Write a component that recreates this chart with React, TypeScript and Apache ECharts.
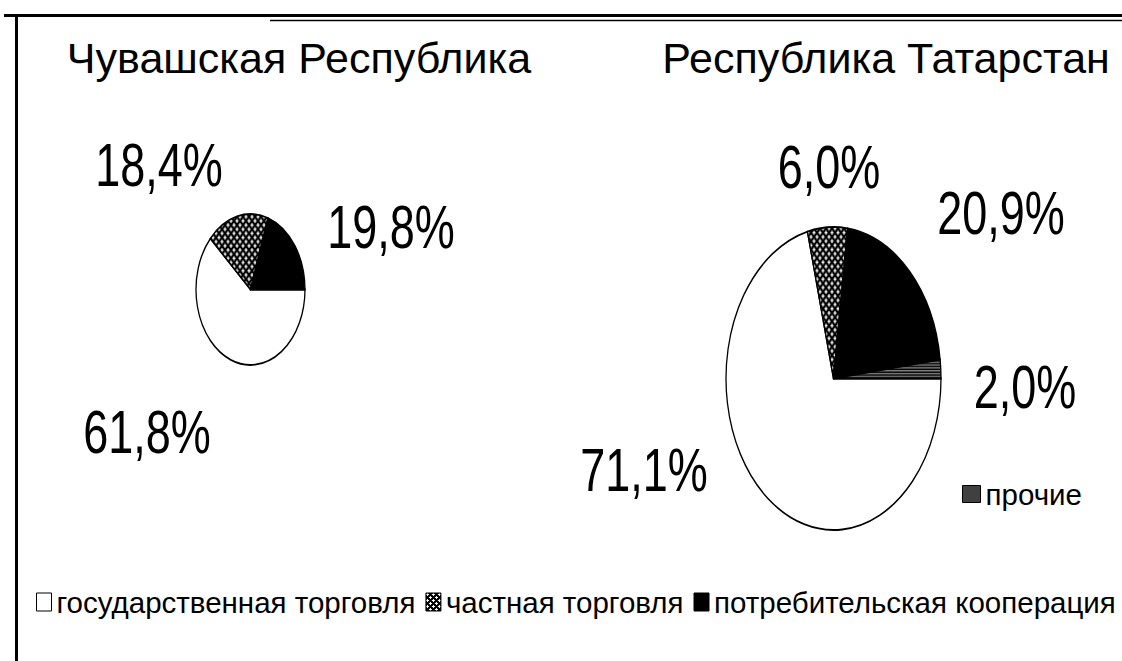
import React, { useEffect, useRef } from "react";
import * as echarts from "echarts";

// ---- data ----
const pieTitles = ["Чувашская Республика", "Республика Татарстан"];
const categories = [
  "государственная торговля",
  "частная торговля",
  "потребительская кооперация",
  "прочие",
];
const chuvashValues = [61.8, 18.4, 19.8];
const tatarstanValues = [71.1, 6.0, 20.9, 2.0];
const pieValues = [chuvashValues, tatarstanValues];

// ---- layout (screen px) ----
const pieGeom = [
  { cx: 250.5, cy: 289.5, rx: 54.5, ry: 75.5 },
  { cx: 833.5, cy: 378.5, rx: 107.5, ry: 151.5 },
];
const labelPos = [
  [
    [147, 432],
    [159, 165],
    [391, 227],
  ],
  [
    [644, 470],
    [829, 167],
    [1001, 213],
    [1025, 387],
  ],
];
const titleX = [299, 886];

function makePattern(w: number, h: number, bg: string, fg: string, pts: number[][]) {
  const c = document.createElement("canvas");
  c.width = w;
  c.height = h;
  const ctx = c.getContext("2d")!;
  ctx.fillStyle = bg;
  ctx.fillRect(0, 0, w, h);
  ctx.fillStyle = fg;
  pts.forEach(([x, y]) => ctx.fillRect(x, y, 1, 1));
  return { image: c, repeat: "repeat" };
}

const fmt = (v: number) => v.toFixed(1).replace(".", ",") + "%";

export default function App() {
  const ref = useRef<HTMLDivElement>(null);
  useEffect(() => {
    if (!ref.current) return;
    const chart = echarts.init(ref.current, null, { renderer: "svg" });

    const hatch = makePattern(6, 6, "#000", "#fff", [
      [1, 0], [0, 1], [1, 1], [2, 1], [1, 2],
      [4, 3], [3, 4], [4, 4], [5, 4], [4, 5],
    ]);
    const dots = makePattern(2, 2, "#000", "#fff", [[0, 0]]);
    const colors: any[] = ["#ffffff", hatch, "#000000", dots];

    const series = categories.map((name, ci) => {
      const data: number[][] = [];
      pieValues.forEach((vals, pi) => {
        if (ci < vals.length) data.push([pi, vals[ci]]);
      });
      return {
        type: "custom",
        name,
        coordinateSystem: "none",
        itemStyle: { color: colors[ci], borderColor: "#000", borderWidth: 1 },
        data,
        renderItem: (params: any, api: any) => {
          const pi = api.value(0);
          const v = api.value(1);
          const vals = pieValues[pi];
          const total = vals.reduce((a, b) => a + b, 0);
          let cum = 0;
          for (let k = 0; k < ci; k++) cum += vals[k];
          const g = pieGeom[pi];
          const a0 = (cum / total) * Math.PI * 2;
          const a1 = ((cum + v) / total) * Math.PI * 2;
          const [lx, ly] = labelPos[pi][ci];
          return {
            type: "group",
            children: [
              {
                type: "sector",
                x: g.cx,
                y: g.cy,
                scaleY: g.ry / g.rx,
                shape: { cx: 0, cy: 0, r: g.rx, r0: 0, startAngle: a0, endAngle: a1, clockwise: true },
                style: { fill: colors[ci], stroke: "#000", lineWidth: 1.3, strokeNoScale: true },
              },
              {
                type: "text",
                x: lx,
                y: ly,
                scaleY: 1.35,
                style: {
                  text: fmt(v),
                  fill: "#000",
                  font: "45px 'Liberation Sans', Arial, sans-serif",
                  align: "center",
                  verticalAlign: "middle",
                },
              },
            ],
          };
        },
      };
    });

    const legendText = { fontFamily: "'Liberation Sans', Arial, sans-serif", fontSize: 29.5, color: "#000" };

    chart.setOption({
      animation: false,
      backgroundColor: "#fff",
      title: pieTitles.map((t, i) => ({
        text: t,
        left: titleX[i],
        top: 36,
        textAlign: "center",
        padding: 0,
        textStyle: {
          fontFamily: "'Liberation Sans', Arial, sans-serif",
          fontSize: 43,
          fontWeight: "normal",
          color: "#000",
        },
      })),
      legend: [
        {
          data: categories.slice(0, 3),
          left: 36,
          top: 587,
          width: 1500,
          orient: "horizontal",
          icon: "rect",
          itemWidth: 15,
          itemHeight: 18,
          itemGap: 10,
          padding: 0,
          selectedMode: false,
          itemStyle: { borderColor: "#000", borderWidth: 1 },
          textStyle: legendText,
        },
        {
          data: [categories[3]],
          left: 962,
          top: 479,
          icon: "rect",
          itemWidth: 18,
          itemHeight: 17,
          padding: 0,
          selectedMode: false,
          itemStyle: { borderColor: "#000", borderWidth: 1 },
          textStyle: legendText,
        },
      ],
      graphic: [
        { type: "line", shape: { x1: 4, y1: 15.5, x2: 1122, y2: 15.5 }, style: { stroke: "#000", lineWidth: 3 } },
        { type: "line", shape: { x1: 270, y1: 20.5, x2: 1122, y2: 20.5 }, style: { stroke: "#000", lineWidth: 1.5 } },
        { type: "line", shape: { x1: 16.5, y1: 14, x2: 16.5, y2: 661 }, style: { stroke: "#000", lineWidth: 3 } },
      ],
      series,
    });
    return () => chart.dispose();
  }, []);
  return (
    <div
      ref={ref}
      style={{ position: "absolute", left: 0, top: 0, width: 1122, height: 661, background: "#fff" }}
    />
  );
}
